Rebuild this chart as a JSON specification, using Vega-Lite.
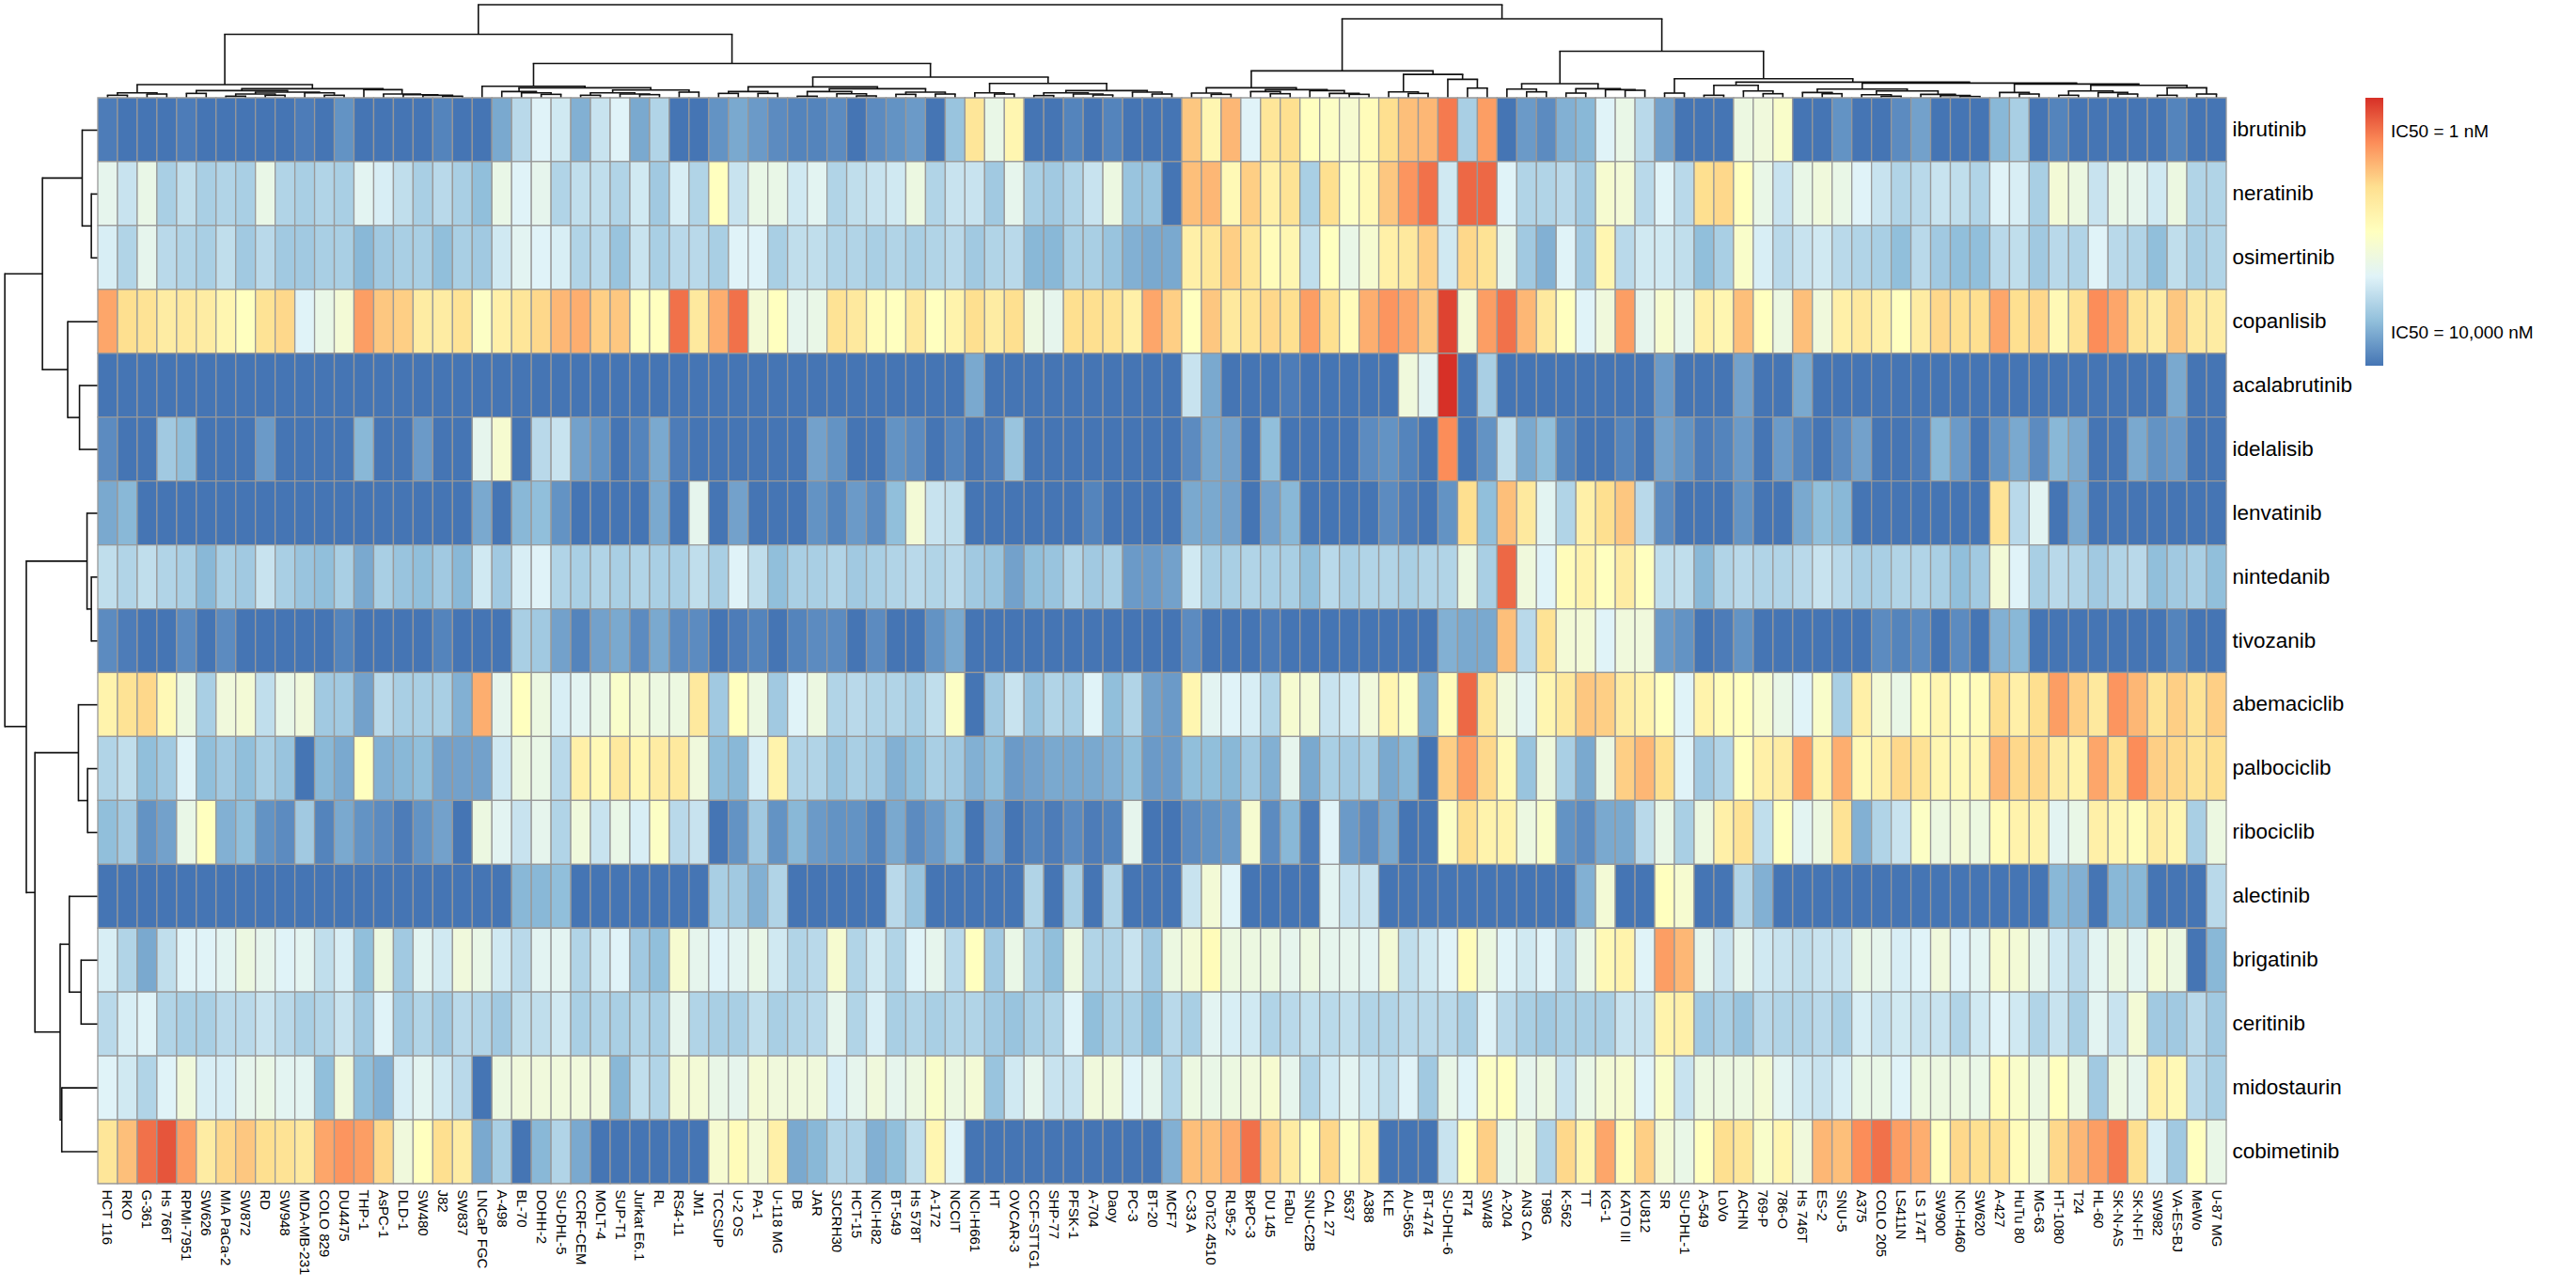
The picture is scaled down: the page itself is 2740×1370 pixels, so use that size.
{"$schema":"https://vega.github.io/schema/vega-lite/v6.json","background":"white","padding":0,"spacing":0,"bounds":"flush","config":{"view":{"stroke":null},"font":"Liberation Sans"},
"datasets":{
"lines":[{"c":0,"line":"HCT 116"},{"c":1,"line":"RKO"},{"c":2,"line":"G-361"},{"c":3,"line":"Hs 766T"},{"c":4,"line":"RPMI-7951"},{"c":5,"line":"SW626"},{"c":6,"line":"MIA PaCa-2"},{"c":7,"line":"SW872"},{"c":8,"line":"RD"},{"c":9,"line":"SW948"},{"c":10,"line":"MDA-MB-231"},{"c":11,"line":"COLO 829"},{"c":12,"line":"DU4475"},{"c":13,"line":"THP-1"},{"c":14,"line":"AsPC-1"},{"c":15,"line":"DLD-1"},{"c":16,"line":"SW480"},{"c":17,"line":"J82"},{"c":18,"line":"SW837"},{"c":19,"line":"LNCaP FGC"},{"c":20,"line":"A-498"},{"c":21,"line":"BL-70"},{"c":22,"line":"DOHH-2"},{"c":23,"line":"SU-DHL-5"},{"c":24,"line":"CCRF-CEM"},{"c":25,"line":"MOLT-4"},{"c":26,"line":"SUP-T1"},{"c":27,"line":"Jurkat E6.1"},{"c":28,"line":"RL"},{"c":29,"line":"RS4-11"},{"c":30,"line":"JM1"},{"c":31,"line":"TCCSUP"},{"c":32,"line":"U-2 OS"},{"c":33,"line":"PA-1"},{"c":34,"line":"U-118 MG"},{"c":35,"line":"DB"},{"c":36,"line":"JAR"},{"c":37,"line":"SJCRH30"},{"c":38,"line":"HCT-15"},{"c":39,"line":"NCI-H82"},{"c":40,"line":"BT-549"},{"c":41,"line":"Hs 578T"},{"c":42,"line":"A-172"},{"c":43,"line":"NCCIT"},{"c":44,"line":"NCI-H661"},{"c":45,"line":"HT"},{"c":46,"line":"OVCAR-3"},{"c":47,"line":"CCF-STTG1"},{"c":48,"line":"SHP-77"},{"c":49,"line":"PFSK-1"},{"c":50,"line":"A-704"},{"c":51,"line":"Daoy"},{"c":52,"line":"PC-3"},{"c":53,"line":"BT-20"},{"c":54,"line":"MCF7"},{"c":55,"line":"C-33 A"},{"c":56,"line":"DoTc2 4510"},{"c":57,"line":"RL95-2"},{"c":58,"line":"BxPC-3"},{"c":59,"line":"DU 145"},{"c":60,"line":"FaDu"},{"c":61,"line":"SNU-C2B"},{"c":62,"line":"CAL 27"},{"c":63,"line":"5637"},{"c":64,"line":"A388"},{"c":65,"line":"KLE"},{"c":66,"line":"AU-565"},{"c":67,"line":"BT-474"},{"c":68,"line":"SU-DHL-6"},{"c":69,"line":"RT4"},{"c":70,"line":"SW48"},{"c":71,"line":"A-204"},{"c":72,"line":"AN3 CA"},{"c":73,"line":"T98G"},{"c":74,"line":"K-562"},{"c":75,"line":"TT"},{"c":76,"line":"KG-1"},{"c":77,"line":"KATO III"},{"c":78,"line":"KU812"},{"c":79,"line":"SR"},{"c":80,"line":"SU-DHL-1"},{"c":81,"line":"A-549"},{"c":82,"line":"LoVo"},{"c":83,"line":"ACHN"},{"c":84,"line":"769-P"},{"c":85,"line":"786-O"},{"c":86,"line":"Hs 746T"},{"c":87,"line":"ES-2"},{"c":88,"line":"SNU-5"},{"c":89,"line":"A375"},{"c":90,"line":"COLO 205"},{"c":91,"line":"LS411N"},{"c":92,"line":"LS 174T"},{"c":93,"line":"SW900"},{"c":94,"line":"NCI-H460"},{"c":95,"line":"SW620"},{"c":96,"line":"A-427"},{"c":97,"line":"HuTu 80"},{"c":98,"line":"MG-63"},{"c":99,"line":"HT-1080"},{"c":100,"line":"T24"},{"c":101,"line":"HL-60"},{"c":102,"line":"SK-N-AS"},{"c":103,"line":"SK-N-FI"},{"c":104,"line":"SW982"},{"c":105,"line":"VA-ES-BJ"},{"c":106,"line":"MeWo"},{"c":107,"line":"U-87 MG"}],
"drugs":[{"d":0,"drug":"ibrutinib"},{"d":1,"drug":"neratinib"},{"d":2,"drug":"osimertinib"},{"d":3,"drug":"copanlisib"},{"d":4,"drug":"acalabrutinib"},{"d":5,"drug":"idelalisib"},{"d":6,"drug":"lenvatinib"},{"d":7,"drug":"nintedanib"},{"d":8,"drug":"tivozanib"},{"d":9,"drug":"abemaciclib"},{"d":10,"drug":"palbociclib"},{"d":11,"drug":"ribociclib"},{"d":12,"drug":"alectinib"},{"d":13,"drug":"brigatinib"},{"d":14,"drug":"ceritinib"},{"d":15,"drug":"midostaurin"},{"d":16,"drug":"cobimetinib"}],
"topTree":[{"a":0.5,"b":1.5,"h":8,"ha":0,"hb":0},{"a":2.5,"b":3.5,"h":12,"ha":0,"hb":0},{"a":1,"b":3,"h":16,"ha":8,"hb":12},{"a":4.5,"b":5.5,"h":14,"ha":0,"hb":0},{"a":6.5,"b":7.5,"h":5,"ha":0,"hb":0},{"a":8.5,"b":9.5,"h":8,"ha":0,"hb":0},{"a":7,"b":9,"h":12,"ha":5,"hb":8},{"a":11.5,"b":12.5,"h":8,"ha":0,"hb":0},{"a":10.5,"b":12,"h":16,"ha":0,"hb":8},{"a":8,"b":11.25,"h":18,"ha":12,"hb":16},{"a":5,"b":9.625,"h":23,"ha":14,"hb":18},{"a":17.5,"b":18.5,"h":5,"ha":0,"hb":0},{"a":16.5,"b":18,"h":8,"ha":0,"hb":5},{"a":15.5,"b":17.25,"h":10,"ha":0,"hb":8},{"a":14.5,"b":16.375,"h":12,"ha":0,"hb":10},{"a":13.5,"b":15.44,"h":26,"ha":0,"hb":12},{"a":7.31,"b":14.47,"h":29,"ha":23,"hb":26},{"a":2,"b":10.89,"h":42,"ha":16,"hb":29},{"a":22.5,"b":23.5,"h":11,"ha":0,"hb":0},{"a":21.5,"b":23,"h":16,"ha":0,"hb":11},{"a":20.5,"b":22.25,"h":20,"ha":0,"hb":16},{"a":24.5,"b":25.5,"h":8,"ha":0,"hb":0},{"a":27.5,"b":28.5,"h":10,"ha":0,"hb":0},{"a":26.5,"b":28,"h":12,"ha":0,"hb":10},{"a":25,"b":27.25,"h":16,"ha":8,"hb":12},{"a":29.5,"b":30.5,"h":18,"ha":0,"hb":0},{"a":26.125,"b":30,"h":25,"ha":16,"hb":18},{"a":21.375,"b":28.06,"h":32,"ha":20,"hb":25},{"a":19.5,"b":24.72,"h":37,"ha":0,"hb":32},{"a":31.5,"b":32.5,"h":14,"ha":0,"hb":0},{"a":33.5,"b":34.5,"h":14,"ha":0,"hb":0},{"a":32,"b":34,"h":20,"ha":14,"hb":14},{"a":35.5,"b":36.5,"h":5,"ha":0,"hb":0},{"a":38.5,"b":39.5,"h":6,"ha":0,"hb":0},{"a":37.5,"b":39,"h":13,"ha":0,"hb":6},{"a":36,"b":38.25,"h":20,"ha":5,"hb":13},{"a":40.5,"b":41.5,"h":11,"ha":0,"hb":0},{"a":42.5,"b":43.5,"h":12,"ha":0,"hb":0},{"a":41,"b":43,"h":18,"ha":11,"hb":12},{"a":37.125,"b":42,"h":29,"ha":20,"hb":18},{"a":33,"b":39.56,"h":35,"ha":20,"hb":29},{"a":45.5,"b":46.5,"h":12,"ha":0,"hb":0},{"a":44.5,"b":46,"h":16,"ha":0,"hb":12},{"a":47.5,"b":48.5,"h":7,"ha":0,"hb":0},{"a":50.5,"b":51.5,"h":9,"ha":0,"hb":0},{"a":49.5,"b":51,"h":12,"ha":0,"hb":9},{"a":48,"b":50.25,"h":16,"ha":7,"hb":12},{"a":53.5,"b":54.5,"h":12,"ha":0,"hb":0},{"a":52.5,"b":54,"h":18,"ha":0,"hb":12},{"a":49.125,"b":53.25,"h":23,"ha":16,"hb":18},{"a":45.25,"b":51.19,"h":46,"ha":16,"hb":23},{"a":36.28,"b":48.22,"h":66,"ha":35,"hb":46},{"a":22.11,"b":42.25,"h":110,"ha":37,"hb":66},{"a":6.445,"b":32.18,"h":203,"ha":42,"hb":110},{"a":56.5,"b":57.5,"h":11,"ha":0,"hb":0},{"a":55.5,"b":57,"h":15,"ha":0,"hb":11},{"a":59.5,"b":60.5,"h":13,"ha":0,"hb":0},{"a":58.5,"b":60,"h":20,"ha":0,"hb":13},{"a":63.5,"b":64.5,"h":11,"ha":0,"hb":0},{"a":62.5,"b":64,"h":14,"ha":0,"hb":11},{"a":61.5,"b":63.25,"h":23,"ha":0,"hb":14},{"a":59.25,"b":62.375,"h":26,"ha":20,"hb":23},{"a":56.25,"b":60.81,"h":32,"ha":15,"hb":26},{"a":66.5,"b":67.5,"h":14,"ha":0,"hb":0},{"a":65.5,"b":67,"h":19,"ha":0,"hb":14},{"a":69.5,"b":70.5,"h":31,"ha":0,"hb":0},{"a":68.5,"b":70,"h":59,"ha":0,"hb":31},{"a":66.25,"b":69.25,"h":75,"ha":19,"hb":59},{"a":58.53,"b":67.75,"h":86,"ha":32,"hb":75},{"a":72.5,"b":73.5,"h":19,"ha":0,"hb":0},{"a":71.5,"b":73,"h":28,"ha":0,"hb":19},{"a":74.5,"b":75.5,"h":15,"ha":0,"hb":0},{"a":77.5,"b":78.5,"h":24,"ha":0,"hb":0},{"a":76.5,"b":78,"h":26,"ha":0,"hb":24},{"a":75,"b":77.25,"h":29,"ha":15,"hb":26},{"a":72.25,"b":76.125,"h":45,"ha":28,"hb":29},{"a":79.5,"b":80.5,"h":15,"ha":0,"hb":0},{"a":81.5,"b":82.5,"h":8,"ha":0,"hb":0},{"a":84.5,"b":85.5,"h":13,"ha":0,"hb":0},{"a":83.5,"b":85,"h":22,"ha":0,"hb":13},{"a":82,"b":84.25,"h":40,"ha":8,"hb":22},{"a":87.5,"b":88.5,"h":13,"ha":0,"hb":0},{"a":86.5,"b":88,"h":17,"ha":0,"hb":13},{"a":90.5,"b":91.5,"h":5,"ha":0,"hb":0},{"a":89.5,"b":91,"h":10,"ha":0,"hb":5},{"a":94.5,"b":95.5,"h":4,"ha":0,"hb":0},{"a":93.5,"b":95,"h":7,"ha":0,"hb":4},{"a":92.5,"b":94.25,"h":11,"ha":0,"hb":7},{"a":90.25,"b":93.375,"h":22,"ha":10,"hb":11},{"a":87.25,"b":91.81,"h":28,"ha":17,"hb":22},{"a":97.5,"b":98.5,"h":12,"ha":0,"hb":0},{"a":96.5,"b":98,"h":17,"ha":0,"hb":12},{"a":99.5,"b":100.5,"h":8,"ha":0,"hb":0},{"a":102.5,"b":103.5,"h":12,"ha":0,"hb":0},{"a":101.5,"b":103,"h":17,"ha":0,"hb":12},{"a":100,"b":102.25,"h":22,"ha":8,"hb":17},{"a":104.5,"b":105.5,"h":8,"ha":0,"hb":0},{"a":106.5,"b":107.5,"h":12,"ha":0,"hb":0},{"a":105,"b":107,"h":32,"ha":8,"hb":12},{"a":101.125,"b":106,"h":40,"ha":22,"hb":32},{"a":97.25,"b":103.56,"h":44,"ha":17,"hb":40},{"a":89.53,"b":100.4,"h":47,"ha":28,"hb":44},{"a":83.125,"b":94.97,"h":50,"ha":40,"hb":47},{"a":80,"b":89.05,"h":61,"ha":15,"hb":50},{"a":74.19,"b":84.52,"h":149,"ha":45,"hb":61},{"a":63.14,"b":79.36,"h":253,"ha":86,"hb":149},{"a":19.31,"b":71.25,"h":298,"ha":203,"hb":253}],
"leftTree":[{"a":1.5,"b":2.5,"h":12,"ha":0,"hb":0},{"a":0.5,"b":2,"h":29,"ha":0,"hb":12},{"a":4.5,"b":5.5,"h":34,"ha":0,"hb":0},{"a":3.5,"b":5,"h":56,"ha":0,"hb":34},{"a":1.25,"b":4.25,"h":103,"ha":29,"hb":56},{"a":7.5,"b":8.5,"h":12,"ha":0,"hb":0},{"a":6.5,"b":8,"h":20,"ha":0,"hb":12},{"a":10.5,"b":11.5,"h":19,"ha":0,"hb":0},{"a":9.5,"b":11,"h":36,"ha":0,"hb":19},{"a":13.5,"b":14.5,"h":31,"ha":0,"hb":0},{"a":12.5,"b":14,"h":53,"ha":0,"hb":31},{"a":15.5,"b":16.5,"h":67,"ha":0,"hb":0},{"a":13.25,"b":16,"h":70,"ha":53,"hb":67},{"a":10.25,"b":14.625,"h":117,"ha":36,"hb":70},{"a":7.25,"b":12.44,"h":133,"ha":20,"hb":117},{"a":2.75,"b":9.84,"h":173,"ha":103,"hb":133}],
"cells":[
{"d":0,"c":0,"v":1},{"d":0,"c":1,"v":0},{"d":0,"c":2,"v":0},{"d":0,"c":3,"v":0},{"d":0,"c":4,"v":1},{"d":0,"c":5,"v":0},{"d":0,"c":6,"v":0},{"d":0,"c":7,"v":0},{"d":0,"c":8,"v":0},{"d":0,"c":9,"v":0},{"d":0,"c":10,"v":1},{"d":0,"c":11,"v":0},{"d":0,"c":12,"v":4},{"d":0,"c":13,"v":0},{"d":0,"c":14,"v":0},{"d":0,"c":15,"v":0},{"d":0,"c":16,"v":0},{"d":0,"c":17,"v":2},{"d":0,"c":18,"v":0},{"d":0,"c":19,"v":0},{"d":0,"c":20,"v":7},{"d":0,"c":21,"v":15},{"d":0,"c":22,"v":20},{"d":0,"c":23,"v":18},{"d":0,"c":24,"v":8},{"d":0,"c":25,"v":17},{"d":0,"c":26,"v":20},{"d":0,"c":27,"v":7},{"d":0,"c":28,"v":14},{"d":0,"c":29,"v":0},{"d":0,"c":30,"v":0},{"d":0,"c":31,"v":4},{"d":0,"c":32,"v":7},{"d":0,"c":33,"v":5},{"d":0,"c":34,"v":3},{"d":0,"c":35,"v":2},{"d":0,"c":36,"v":2},{"d":0,"c":37,"v":3},{"d":0,"c":38,"v":0},{"d":0,"c":39,"v":3},{"d":0,"c":40,"v":4},{"d":0,"c":41,"v":5},{"d":0,"c":42,"v":0},{"d":0,"c":43,"v":11},{"d":0,"c":44,"v":38},{"d":0,"c":45,"v":23},{"d":0,"c":46,"v":33},{"d":0,"c":47,"v":0},{"d":0,"c":48,"v":0},{"d":0,"c":49,"v":2},{"d":0,"c":50,"v":0},{"d":0,"c":51,"v":2},{"d":0,"c":52,"v":0},{"d":0,"c":53,"v":0},{"d":0,"c":54,"v":0},{"d":0,"c":55,"v":43},{"d":0,"c":56,"v":33},{"d":0,"c":57,"v":45},{"d":0,"c":58,"v":20},{"d":0,"c":59,"v":38},{"d":0,"c":60,"v":40},{"d":0,"c":61,"v":30},{"d":0,"c":62,"v":29},{"d":0,"c":63,"v":27},{"d":0,"c":64,"v":31},{"d":0,"c":65,"v":40},{"d":0,"c":66,"v":44},{"d":0,"c":67,"v":45},{"d":0,"c":68,"v":52},{"d":0,"c":69,"v":13},{"d":0,"c":70,"v":48},{"d":0,"c":71,"v":0},{"d":0,"c":72,"v":5},{"d":0,"c":73,"v":3},{"d":0,"c":74,"v":8},{"d":0,"c":75,"v":9},{"d":0,"c":76,"v":20},{"d":0,"c":77,"v":23},{"d":0,"c":78,"v":15},{"d":0,"c":79,"v":6},{"d":0,"c":80,"v":0},{"d":0,"c":81,"v":0},{"d":0,"c":82,"v":0},{"d":0,"c":83,"v":24},{"d":0,"c":84,"v":25},{"d":0,"c":85,"v":28},{"d":0,"c":86,"v":0},{"d":0,"c":87,"v":0},{"d":0,"c":88,"v":4},{"d":0,"c":89,"v":0},{"d":0,"c":90,"v":0},{"d":0,"c":91,"v":3},{"d":0,"c":92,"v":6},{"d":0,"c":93,"v":0},{"d":0,"c":94,"v":0},{"d":0,"c":95,"v":0},{"d":0,"c":96,"v":9},{"d":0,"c":97,"v":13},{"d":0,"c":98,"v":0},{"d":0,"c":99,"v":2},{"d":0,"c":100,"v":0},{"d":0,"c":101,"v":0},{"d":0,"c":102,"v":0},{"d":0,"c":103,"v":0},{"d":0,"c":104,"v":0},{"d":0,"c":105,"v":2},{"d":0,"c":106,"v":0},{"d":0,"c":107,"v":0},
{"d":1,"c":0,"v":22},{"d":1,"c":1,"v":17},{"d":1,"c":2,"v":23},{"d":1,"c":3,"v":13},{"d":1,"c":4,"v":16},{"d":1,"c":5,"v":13},{"d":1,"c":6,"v":14},{"d":1,"c":7,"v":13},{"d":1,"c":8,"v":23},{"d":1,"c":9,"v":14},{"d":1,"c":10,"v":13},{"d":1,"c":11,"v":14},{"d":1,"c":12,"v":13},{"d":1,"c":13,"v":21},{"d":1,"c":14,"v":19},{"d":1,"c":15,"v":16},{"d":1,"c":16,"v":13},{"d":1,"c":17,"v":15},{"d":1,"c":18,"v":13},{"d":1,"c":19,"v":10},{"d":1,"c":20,"v":23},{"d":1,"c":21,"v":20},{"d":1,"c":22,"v":22},{"d":1,"c":23,"v":14},{"d":1,"c":24,"v":16},{"d":1,"c":25,"v":16},{"d":1,"c":26,"v":14},{"d":1,"c":27,"v":18},{"d":1,"c":28,"v":12},{"d":1,"c":29,"v":19},{"d":1,"c":30,"v":14},{"d":1,"c":31,"v":30},{"d":1,"c":32,"v":17},{"d":1,"c":33,"v":23},{"d":1,"c":34,"v":23},{"d":1,"c":35,"v":18},{"d":1,"c":36,"v":21},{"d":1,"c":37,"v":14},{"d":1,"c":38,"v":16},{"d":1,"c":39,"v":17},{"d":1,"c":40,"v":18},{"d":1,"c":41,"v":24},{"d":1,"c":42,"v":14},{"d":1,"c":43,"v":17},{"d":1,"c":44,"v":17},{"d":1,"c":45,"v":12},{"d":1,"c":46,"v":22},{"d":1,"c":47,"v":13},{"d":1,"c":48,"v":12},{"d":1,"c":49,"v":14},{"d":1,"c":50,"v":17},{"d":1,"c":51,"v":24},{"d":1,"c":52,"v":11},{"d":1,"c":53,"v":11},{"d":1,"c":54,"v":0},{"d":1,"c":55,"v":44},{"d":1,"c":56,"v":45},{"d":1,"c":57,"v":32},{"d":1,"c":58,"v":42},{"d":1,"c":59,"v":35},{"d":1,"c":60,"v":39},{"d":1,"c":61,"v":13},{"d":1,"c":62,"v":40},{"d":1,"c":63,"v":29},{"d":1,"c":64,"v":32},{"d":1,"c":65,"v":43},{"d":1,"c":66,"v":49},{"d":1,"c":67,"v":53},{"d":1,"c":68,"v":18},{"d":1,"c":69,"v":54},{"d":1,"c":70,"v":54},{"d":1,"c":71,"v":20},{"d":1,"c":72,"v":14},{"d":1,"c":73,"v":14},{"d":1,"c":74,"v":15},{"d":1,"c":75,"v":12},{"d":1,"c":76,"v":27},{"d":1,"c":77,"v":26},{"d":1,"c":78,"v":15},{"d":1,"c":79,"v":20},{"d":1,"c":80,"v":15},{"d":1,"c":81,"v":40},{"d":1,"c":82,"v":41},{"d":1,"c":83,"v":30},{"d":1,"c":84,"v":23},{"d":1,"c":85,"v":17},{"d":1,"c":86,"v":23},{"d":1,"c":87,"v":25},{"d":1,"c":88,"v":23},{"d":1,"c":89,"v":20},{"d":1,"c":90,"v":17},{"d":1,"c":91,"v":14},{"d":1,"c":92,"v":15},{"d":1,"c":93,"v":17},{"d":1,"c":94,"v":16},{"d":1,"c":95,"v":14},{"d":1,"c":96,"v":20},{"d":1,"c":97,"v":19},{"d":1,"c":98,"v":13},{"d":1,"c":99,"v":26},{"d":1,"c":100,"v":24},{"d":1,"c":101,"v":17},{"d":1,"c":102,"v":23},{"d":1,"c":103,"v":22},{"d":1,"c":104,"v":18},{"d":1,"c":105,"v":24},{"d":1,"c":106,"v":14},{"d":1,"c":107,"v":14},
{"d":2,"c":0,"v":19},{"d":2,"c":1,"v":14},{"d":2,"c":2,"v":22},{"d":2,"c":3,"v":15},{"d":2,"c":4,"v":14},{"d":2,"c":5,"v":13},{"d":2,"c":6,"v":16},{"d":2,"c":7,"v":12},{"d":2,"c":8,"v":15},{"d":2,"c":9,"v":12},{"d":2,"c":10,"v":12},{"d":2,"c":11,"v":13},{"d":2,"c":12,"v":13},{"d":2,"c":13,"v":9},{"d":2,"c":14,"v":12},{"d":2,"c":15,"v":13},{"d":2,"c":16,"v":13},{"d":2,"c":17,"v":10},{"d":2,"c":18,"v":13},{"d":2,"c":19,"v":12},{"d":2,"c":20,"v":18},{"d":2,"c":21,"v":21},{"d":2,"c":22,"v":20},{"d":2,"c":23,"v":19},{"d":2,"c":24,"v":14},{"d":2,"c":25,"v":15},{"d":2,"c":26,"v":11},{"d":2,"c":27,"v":17},{"d":2,"c":28,"v":13},{"d":2,"c":29,"v":15},{"d":2,"c":30,"v":15},{"d":2,"c":31,"v":13},{"d":2,"c":32,"v":20},{"d":2,"c":33,"v":20},{"d":2,"c":34,"v":13},{"d":2,"c":35,"v":16},{"d":2,"c":36,"v":16},{"d":2,"c":37,"v":14},{"d":2,"c":38,"v":14},{"d":2,"c":39,"v":13},{"d":2,"c":40,"v":14},{"d":2,"c":41,"v":13},{"d":2,"c":42,"v":14},{"d":2,"c":43,"v":15},{"d":2,"c":44,"v":12},{"d":2,"c":45,"v":14},{"d":2,"c":46,"v":15},{"d":2,"c":47,"v":9},{"d":2,"c":48,"v":9},{"d":2,"c":49,"v":13},{"d":2,"c":50,"v":13},{"d":2,"c":51,"v":11},{"d":2,"c":52,"v":8},{"d":2,"c":53,"v":7},{"d":2,"c":54,"v":7},{"d":2,"c":55,"v":35},{"d":2,"c":56,"v":38},{"d":2,"c":57,"v":42},{"d":2,"c":58,"v":38},{"d":2,"c":59,"v":31},{"d":2,"c":60,"v":33},{"d":2,"c":61,"v":16},{"d":2,"c":62,"v":30},{"d":2,"c":63,"v":23},{"d":2,"c":64,"v":27},{"d":2,"c":65,"v":35},{"d":2,"c":66,"v":37},{"d":2,"c":67,"v":42},{"d":2,"c":68,"v":18},{"d":2,"c":69,"v":41},{"d":2,"c":70,"v":39},{"d":2,"c":71,"v":22},{"d":2,"c":72,"v":12},{"d":2,"c":73,"v":8},{"d":2,"c":74,"v":20},{"d":2,"c":75,"v":12},{"d":2,"c":76,"v":33},{"d":2,"c":77,"v":15},{"d":2,"c":78,"v":18},{"d":2,"c":79,"v":18},{"d":2,"c":80,"v":16},{"d":2,"c":81,"v":10},{"d":2,"c":82,"v":13},{"d":2,"c":83,"v":28},{"d":2,"c":84,"v":19},{"d":2,"c":85,"v":15},{"d":2,"c":86,"v":17},{"d":2,"c":87,"v":18},{"d":2,"c":88,"v":15},{"d":2,"c":89,"v":14},{"d":2,"c":90,"v":13},{"d":2,"c":91,"v":10},{"d":2,"c":92,"v":15},{"d":2,"c":93,"v":12},{"d":2,"c":94,"v":10},{"d":2,"c":95,"v":10},{"d":2,"c":96,"v":15},{"d":2,"c":97,"v":16},{"d":2,"c":98,"v":12},{"d":2,"c":99,"v":15},{"d":2,"c":100,"v":14},{"d":2,"c":101,"v":20},{"d":2,"c":102,"v":15},{"d":2,"c":103,"v":14},{"d":2,"c":104,"v":10},{"d":2,"c":105,"v":16},{"d":2,"c":106,"v":13},{"d":2,"c":107,"v":14},
{"d":3,"c":0,"v":47},{"d":3,"c":1,"v":40},{"d":3,"c":2,"v":39},{"d":3,"c":3,"v":36},{"d":3,"c":4,"v":37},{"d":3,"c":5,"v":36},{"d":3,"c":6,"v":33},{"d":3,"c":7,"v":30},{"d":3,"c":8,"v":39},{"d":3,"c":9,"v":41},{"d":3,"c":10,"v":20},{"d":3,"c":11,"v":23},{"d":3,"c":12,"v":26},{"d":3,"c":13,"v":48},{"d":3,"c":14,"v":43},{"d":3,"c":15,"v":42},{"d":3,"c":16,"v":36},{"d":3,"c":17,"v":36},{"d":3,"c":18,"v":39},{"d":3,"c":19,"v":29},{"d":3,"c":20,"v":35},{"d":3,"c":21,"v":38},{"d":3,"c":22,"v":41},{"d":3,"c":23,"v":45},{"d":3,"c":24,"v":46},{"d":3,"c":25,"v":42},{"d":3,"c":26,"v":43},{"d":3,"c":27,"v":30},{"d":3,"c":28,"v":30},{"d":3,"c":29,"v":53},{"d":3,"c":30,"v":37},{"d":3,"c":31,"v":46},{"d":3,"c":32,"v":53},{"d":3,"c":33,"v":26},{"d":3,"c":34,"v":30},{"d":3,"c":35,"v":22},{"d":3,"c":36,"v":23},{"d":3,"c":37,"v":39},{"d":3,"c":38,"v":37},{"d":3,"c":39,"v":31},{"d":3,"c":40,"v":30},{"d":3,"c":41,"v":37},{"d":3,"c":42,"v":30},{"d":3,"c":43,"v":34},{"d":3,"c":44,"v":40},{"d":3,"c":45,"v":36},{"d":3,"c":46,"v":40},{"d":3,"c":47,"v":24},{"d":3,"c":48,"v":22},{"d":3,"c":49,"v":40},{"d":3,"c":50,"v":40},{"d":3,"c":51,"v":39},{"d":3,"c":52,"v":35},{"d":3,"c":53,"v":47},{"d":3,"c":54,"v":42},{"d":3,"c":55,"v":30},{"d":3,"c":56,"v":43},{"d":3,"c":57,"v":37},{"d":3,"c":58,"v":39},{"d":3,"c":59,"v":41},{"d":3,"c":60,"v":40},{"d":3,"c":61,"v":48},{"d":3,"c":62,"v":40},{"d":3,"c":63,"v":31},{"d":3,"c":64,"v":46},{"d":3,"c":65,"v":49},{"d":3,"c":66,"v":47},{"d":3,"c":67,"v":43},{"d":3,"c":68,"v":58},{"d":3,"c":69,"v":26},{"d":3,"c":70,"v":48},{"d":3,"c":71,"v":53},{"d":3,"c":72,"v":45},{"d":3,"c":73,"v":37},{"d":3,"c":74,"v":30},{"d":3,"c":75,"v":20},{"d":3,"c":76,"v":25},{"d":3,"c":77,"v":48},{"d":3,"c":78,"v":22},{"d":3,"c":79,"v":27},{"d":3,"c":80,"v":22},{"d":3,"c":81,"v":35},{"d":3,"c":82,"v":33},{"d":3,"c":83,"v":44},{"d":3,"c":84,"v":30},{"d":3,"c":85,"v":24},{"d":3,"c":86,"v":44},{"d":3,"c":87,"v":25},{"d":3,"c":88,"v":35},{"d":3,"c":89,"v":37},{"d":3,"c":90,"v":35},{"d":3,"c":91,"v":30},{"d":3,"c":92,"v":36},{"d":3,"c":93,"v":41},{"d":3,"c":94,"v":40},{"d":3,"c":95,"v":40},{"d":3,"c":96,"v":47},{"d":3,"c":97,"v":40},{"d":3,"c":98,"v":41},{"d":3,"c":99,"v":32},{"d":3,"c":100,"v":39},{"d":3,"c":101,"v":50},{"d":3,"c":102,"v":47},{"d":3,"c":103,"v":39},{"d":3,"c":104,"v":36},{"d":3,"c":105,"v":43},{"d":3,"c":106,"v":37},{"d":3,"c":107,"v":36},
{"d":4,"c":0,"v":0},{"d":4,"c":1,"v":0},{"d":4,"c":2,"v":0},{"d":4,"c":3,"v":0},{"d":4,"c":4,"v":0},{"d":4,"c":5,"v":0},{"d":4,"c":6,"v":0},{"d":4,"c":7,"v":0},{"d":4,"c":8,"v":0},{"d":4,"c":9,"v":0},{"d":4,"c":10,"v":0},{"d":4,"c":11,"v":0},{"d":4,"c":12,"v":0},{"d":4,"c":13,"v":0},{"d":4,"c":14,"v":0},{"d":4,"c":15,"v":0},{"d":4,"c":16,"v":0},{"d":4,"c":17,"v":0},{"d":4,"c":18,"v":0},{"d":4,"c":19,"v":0},{"d":4,"c":20,"v":0},{"d":4,"c":21,"v":0},{"d":4,"c":22,"v":0},{"d":4,"c":23,"v":0},{"d":4,"c":24,"v":0},{"d":4,"c":25,"v":0},{"d":4,"c":26,"v":0},{"d":4,"c":27,"v":0},{"d":4,"c":28,"v":0},{"d":4,"c":29,"v":0},{"d":4,"c":30,"v":0},{"d":4,"c":31,"v":0},{"d":4,"c":32,"v":0},{"d":4,"c":33,"v":0},{"d":4,"c":34,"v":0},{"d":4,"c":35,"v":0},{"d":4,"c":36,"v":0},{"d":4,"c":37,"v":0},{"d":4,"c":38,"v":0},{"d":4,"c":39,"v":0},{"d":4,"c":40,"v":0},{"d":4,"c":41,"v":0},{"d":4,"c":42,"v":0},{"d":4,"c":43,"v":0},{"d":4,"c":44,"v":7},{"d":4,"c":45,"v":0},{"d":4,"c":46,"v":0},{"d":4,"c":47,"v":0},{"d":4,"c":48,"v":0},{"d":4,"c":49,"v":0},{"d":4,"c":50,"v":0},{"d":4,"c":51,"v":0},{"d":4,"c":52,"v":0},{"d":4,"c":53,"v":0},{"d":4,"c":54,"v":0},{"d":4,"c":55,"v":17},{"d":4,"c":56,"v":7},{"d":4,"c":57,"v":0},{"d":4,"c":58,"v":0},{"d":4,"c":59,"v":0},{"d":4,"c":60,"v":1},{"d":4,"c":61,"v":0},{"d":4,"c":62,"v":0},{"d":4,"c":63,"v":0},{"d":4,"c":64,"v":0},{"d":4,"c":65,"v":0},{"d":4,"c":66,"v":25},{"d":4,"c":67,"v":21},{"d":4,"c":68,"v":60},{"d":4,"c":69,"v":0},{"d":4,"c":70,"v":13},{"d":4,"c":71,"v":0},{"d":4,"c":72,"v":0},{"d":4,"c":73,"v":0},{"d":4,"c":74,"v":0},{"d":4,"c":75,"v":0},{"d":4,"c":76,"v":0},{"d":4,"c":77,"v":0},{"d":4,"c":78,"v":0},{"d":4,"c":79,"v":5},{"d":4,"c":80,"v":0},{"d":4,"c":81,"v":0},{"d":4,"c":82,"v":0},{"d":4,"c":83,"v":6},{"d":4,"c":84,"v":0},{"d":4,"c":85,"v":0},{"d":4,"c":86,"v":7},{"d":4,"c":87,"v":0},{"d":4,"c":88,"v":0},{"d":4,"c":89,"v":0},{"d":4,"c":90,"v":0},{"d":4,"c":91,"v":0},{"d":4,"c":92,"v":0},{"d":4,"c":93,"v":0},{"d":4,"c":94,"v":0},{"d":4,"c":95,"v":0},{"d":4,"c":96,"v":0},{"d":4,"c":97,"v":0},{"d":4,"c":98,"v":0},{"d":4,"c":99,"v":0},{"d":4,"c":100,"v":0},{"d":4,"c":101,"v":0},{"d":4,"c":102,"v":0},{"d":4,"c":103,"v":0},{"d":4,"c":104,"v":0},{"d":4,"c":105,"v":7},{"d":4,"c":106,"v":0},{"d":4,"c":107,"v":0},
{"d":5,"c":0,"v":3},{"d":5,"c":1,"v":0},{"d":5,"c":2,"v":0},{"d":5,"c":3,"v":12},{"d":5,"c":4,"v":10},{"d":5,"c":5,"v":0},{"d":5,"c":6,"v":0},{"d":5,"c":7,"v":0},{"d":5,"c":8,"v":5},{"d":5,"c":9,"v":0},{"d":5,"c":10,"v":0},{"d":5,"c":11,"v":0},{"d":5,"c":12,"v":0},{"d":5,"c":13,"v":9},{"d":5,"c":14,"v":0},{"d":5,"c":15,"v":0},{"d":5,"c":16,"v":5},{"d":5,"c":17,"v":0},{"d":5,"c":18,"v":0},{"d":5,"c":19,"v":22},{"d":5,"c":20,"v":27},{"d":5,"c":21,"v":0},{"d":5,"c":22,"v":15},{"d":5,"c":23,"v":17},{"d":5,"c":24,"v":6},{"d":5,"c":25,"v":4},{"d":5,"c":26,"v":0},{"d":5,"c":27,"v":2},{"d":5,"c":28,"v":7},{"d":5,"c":29,"v":1},{"d":5,"c":30,"v":0},{"d":5,"c":31,"v":0},{"d":5,"c":32,"v":0},{"d":5,"c":33,"v":0},{"d":5,"c":34,"v":0},{"d":5,"c":35,"v":0},{"d":5,"c":36,"v":6},{"d":5,"c":37,"v":4},{"d":5,"c":38,"v":0},{"d":5,"c":39,"v":0},{"d":5,"c":40,"v":4},{"d":5,"c":41,"v":3},{"d":5,"c":42,"v":0},{"d":5,"c":43,"v":2},{"d":5,"c":44,"v":0},{"d":5,"c":45,"v":1},{"d":5,"c":46,"v":11},{"d":5,"c":47,"v":0},{"d":5,"c":48,"v":0},{"d":5,"c":49,"v":0},{"d":5,"c":50,"v":0},{"d":5,"c":51,"v":0},{"d":5,"c":52,"v":0},{"d":5,"c":53,"v":0},{"d":5,"c":54,"v":0},{"d":5,"c":55,"v":3},{"d":5,"c":56,"v":7},{"d":5,"c":57,"v":6},{"d":5,"c":58,"v":0},{"d":5,"c":59,"v":10},{"d":5,"c":60,"v":0},{"d":5,"c":61,"v":0},{"d":5,"c":62,"v":0},{"d":5,"c":63,"v":0},{"d":5,"c":64,"v":3},{"d":5,"c":65,"v":4},{"d":5,"c":66,"v":2},{"d":5,"c":67,"v":0},{"d":5,"c":68,"v":50},{"d":5,"c":69,"v":0},{"d":5,"c":70,"v":4},{"d":5,"c":71,"v":16},{"d":5,"c":72,"v":7},{"d":5,"c":73,"v":10},{"d":5,"c":74,"v":2},{"d":5,"c":75,"v":0},{"d":5,"c":76,"v":0},{"d":5,"c":77,"v":2},{"d":5,"c":78,"v":0},{"d":5,"c":79,"v":6},{"d":5,"c":80,"v":4},{"d":5,"c":81,"v":1},{"d":5,"c":82,"v":2},{"d":5,"c":83,"v":5},{"d":5,"c":84,"v":0},{"d":5,"c":85,"v":5},{"d":5,"c":86,"v":2},{"d":5,"c":87,"v":0},{"d":5,"c":88,"v":3},{"d":5,"c":89,"v":6},{"d":5,"c":90,"v":0},{"d":5,"c":91,"v":0},{"d":5,"c":92,"v":1},{"d":5,"c":93,"v":9},{"d":5,"c":94,"v":5},{"d":5,"c":95,"v":0},{"d":5,"c":96,"v":4},{"d":5,"c":97,"v":7},{"d":5,"c":98,"v":3},{"d":5,"c":99,"v":9},{"d":5,"c":100,"v":7},{"d":5,"c":101,"v":0},{"d":5,"c":102,"v":0},{"d":5,"c":103,"v":7},{"d":5,"c":104,"v":4},{"d":5,"c":105,"v":5},{"d":5,"c":106,"v":0},{"d":5,"c":107,"v":0},
{"d":6,"c":0,"v":7},{"d":6,"c":1,"v":9},{"d":6,"c":2,"v":0},{"d":6,"c":3,"v":0},{"d":6,"c":4,"v":0},{"d":6,"c":5,"v":0},{"d":6,"c":6,"v":0},{"d":6,"c":7,"v":0},{"d":6,"c":8,"v":0},{"d":6,"c":9,"v":0},{"d":6,"c":10,"v":0},{"d":6,"c":11,"v":0},{"d":6,"c":12,"v":0},{"d":6,"c":13,"v":0},{"d":6,"c":14,"v":0},{"d":6,"c":15,"v":0},{"d":6,"c":16,"v":0},{"d":6,"c":17,"v":0},{"d":6,"c":18,"v":0},{"d":6,"c":19,"v":7},{"d":6,"c":20,"v":0},{"d":6,"c":21,"v":9},{"d":6,"c":22,"v":10},{"d":6,"c":23,"v":4},{"d":6,"c":24,"v":0},{"d":6,"c":25,"v":0},{"d":6,"c":26,"v":0},{"d":6,"c":27,"v":0},{"d":6,"c":28,"v":7},{"d":6,"c":29,"v":0},{"d":6,"c":30,"v":22},{"d":6,"c":31,"v":0},{"d":6,"c":32,"v":6},{"d":6,"c":33,"v":0},{"d":6,"c":34,"v":0},{"d":6,"c":35,"v":0},{"d":6,"c":36,"v":4},{"d":6,"c":37,"v":2},{"d":6,"c":38,"v":5},{"d":6,"c":39,"v":3},{"d":6,"c":40,"v":10},{"d":6,"c":41,"v":26},{"d":6,"c":42,"v":17},{"d":6,"c":43,"v":16},{"d":6,"c":44,"v":0},{"d":6,"c":45,"v":0},{"d":6,"c":46,"v":0},{"d":6,"c":47,"v":0},{"d":6,"c":48,"v":0},{"d":6,"c":49,"v":0},{"d":6,"c":50,"v":2},{"d":6,"c":51,"v":0},{"d":6,"c":52,"v":0},{"d":6,"c":53,"v":0},{"d":6,"c":54,"v":0},{"d":6,"c":55,"v":7},{"d":6,"c":56,"v":7},{"d":6,"c":57,"v":6},{"d":6,"c":58,"v":0},{"d":6,"c":59,"v":6},{"d":6,"c":60,"v":9},{"d":6,"c":61,"v":0},{"d":6,"c":62,"v":0},{"d":6,"c":63,"v":0},{"d":6,"c":64,"v":0},{"d":6,"c":65,"v":3},{"d":6,"c":66,"v":1},{"d":6,"c":67,"v":0},{"d":6,"c":68,"v":4},{"d":6,"c":69,"v":40},{"d":6,"c":70,"v":10},{"d":6,"c":71,"v":44},{"d":6,"c":72,"v":37},{"d":6,"c":73,"v":21},{"d":6,"c":74,"v":14},{"d":6,"c":75,"v":35},{"d":6,"c":76,"v":40},{"d":6,"c":77,"v":43},{"d":6,"c":78,"v":15},{"d":6,"c":79,"v":3},{"d":6,"c":80,"v":0},{"d":6,"c":81,"v":0},{"d":6,"c":82,"v":0},{"d":6,"c":83,"v":4},{"d":6,"c":84,"v":0},{"d":6,"c":85,"v":0},{"d":6,"c":86,"v":7},{"d":6,"c":87,"v":10},{"d":6,"c":88,"v":9},{"d":6,"c":89,"v":0},{"d":6,"c":90,"v":0},{"d":6,"c":91,"v":0},{"d":6,"c":92,"v":0},{"d":6,"c":93,"v":0},{"d":6,"c":94,"v":0},{"d":6,"c":95,"v":0},{"d":6,"c":96,"v":39},{"d":6,"c":97,"v":15},{"d":6,"c":98,"v":21},{"d":6,"c":99,"v":0},{"d":6,"c":100,"v":7},{"d":6,"c":101,"v":0},{"d":6,"c":102,"v":0},{"d":6,"c":103,"v":0},{"d":6,"c":104,"v":0},{"d":6,"c":105,"v":0},{"d":6,"c":106,"v":0},{"d":6,"c":107,"v":0},
{"d":7,"c":0,"v":16},{"d":7,"c":1,"v":14},{"d":7,"c":2,"v":16},{"d":7,"c":3,"v":14},{"d":7,"c":4,"v":13},{"d":7,"c":5,"v":9},{"d":7,"c":6,"v":13},{"d":7,"c":7,"v":12},{"d":7,"c":8,"v":17},{"d":7,"c":9,"v":13},{"d":7,"c":10,"v":11},{"d":7,"c":11,"v":10},{"d":7,"c":12,"v":13},{"d":7,"c":13,"v":7},{"d":7,"c":14,"v":13},{"d":7,"c":15,"v":11},{"d":7,"c":16,"v":10},{"d":7,"c":17,"v":12},{"d":7,"c":18,"v":9},{"d":7,"c":19,"v":18},{"d":7,"c":20,"v":12},{"d":7,"c":21,"v":19},{"d":7,"c":22,"v":20},{"d":7,"c":23,"v":14},{"d":7,"c":24,"v":13},{"d":7,"c":25,"v":14},{"d":7,"c":26,"v":13},{"d":7,"c":27,"v":14},{"d":7,"c":28,"v":13},{"d":7,"c":29,"v":13},{"d":7,"c":30,"v":16},{"d":7,"c":31,"v":13},{"d":7,"c":32,"v":20},{"d":7,"c":33,"v":16},{"d":7,"c":34,"v":10},{"d":7,"c":35,"v":13},{"d":7,"c":36,"v":13},{"d":7,"c":37,"v":14},{"d":7,"c":38,"v":12},{"d":7,"c":39,"v":13},{"d":7,"c":40,"v":14},{"d":7,"c":41,"v":15},{"d":7,"c":42,"v":14},{"d":7,"c":43,"v":15},{"d":7,"c":44,"v":12},{"d":7,"c":45,"v":11},{"d":7,"c":46,"v":6},{"d":7,"c":47,"v":10},{"d":7,"c":48,"v":11},{"d":7,"c":49,"v":14},{"d":7,"c":50,"v":12},{"d":7,"c":51,"v":13},{"d":7,"c":52,"v":5},{"d":7,"c":53,"v":5},{"d":7,"c":54,"v":6},{"d":7,"c":55,"v":18},{"d":7,"c":56,"v":13},{"d":7,"c":57,"v":13},{"d":7,"c":58,"v":14},{"d":7,"c":59,"v":13},{"d":7,"c":60,"v":13},{"d":7,"c":61,"v":10},{"d":7,"c":62,"v":15},{"d":7,"c":63,"v":13},{"d":7,"c":64,"v":14},{"d":7,"c":65,"v":14},{"d":7,"c":66,"v":13},{"d":7,"c":67,"v":14},{"d":7,"c":68,"v":14},{"d":7,"c":69,"v":24},{"d":7,"c":70,"v":13},{"d":7,"c":71,"v":54},{"d":7,"c":72,"v":25},{"d":7,"c":73,"v":20},{"d":7,"c":74,"v":31},{"d":7,"c":75,"v":34},{"d":7,"c":76,"v":30},{"d":7,"c":77,"v":36},{"d":7,"c":78,"v":30},{"d":7,"c":79,"v":16},{"d":7,"c":80,"v":16},{"d":7,"c":81,"v":9},{"d":7,"c":82,"v":14},{"d":7,"c":83,"v":15},{"d":7,"c":84,"v":14},{"d":7,"c":85,"v":14},{"d":7,"c":86,"v":15},{"d":7,"c":87,"v":17},{"d":7,"c":88,"v":15},{"d":7,"c":89,"v":13},{"d":7,"c":90,"v":13},{"d":7,"c":91,"v":14},{"d":7,"c":92,"v":14},{"d":7,"c":93,"v":13},{"d":7,"c":94,"v":10},{"d":7,"c":95,"v":12},{"d":7,"c":96,"v":26},{"d":7,"c":97,"v":20},{"d":7,"c":98,"v":13},{"d":7,"c":99,"v":15},{"d":7,"c":100,"v":14},{"d":7,"c":101,"v":12},{"d":7,"c":102,"v":14},{"d":7,"c":103,"v":15},{"d":7,"c":104,"v":10},{"d":7,"c":105,"v":12},{"d":7,"c":106,"v":13},{"d":7,"c":107,"v":10},
{"d":8,"c":0,"v":3},{"d":8,"c":1,"v":1},{"d":8,"c":2,"v":0},{"d":8,"c":3,"v":0},{"d":8,"c":4,"v":3},{"d":8,"c":5,"v":0},{"d":8,"c":6,"v":3},{"d":8,"c":7,"v":0},{"d":8,"c":8,"v":0},{"d":8,"c":9,"v":0},{"d":8,"c":10,"v":0},{"d":8,"c":11,"v":0},{"d":8,"c":12,"v":2},{"d":8,"c":13,"v":0},{"d":8,"c":14,"v":0},{"d":8,"c":15,"v":0},{"d":8,"c":16,"v":0},{"d":8,"c":17,"v":2},{"d":8,"c":18,"v":0},{"d":8,"c":19,"v":0},{"d":8,"c":20,"v":0},{"d":8,"c":21,"v":13},{"d":8,"c":22,"v":12},{"d":8,"c":23,"v":6},{"d":8,"c":24,"v":2},{"d":8,"c":25,"v":6},{"d":8,"c":26,"v":7},{"d":8,"c":27,"v":3},{"d":8,"c":28,"v":7},{"d":8,"c":29,"v":3},{"d":8,"c":30,"v":3},{"d":8,"c":31,"v":0},{"d":8,"c":32,"v":1},{"d":8,"c":33,"v":2},{"d":8,"c":34,"v":0},{"d":8,"c":35,"v":2},{"d":8,"c":36,"v":3},{"d":8,"c":37,"v":3},{"d":8,"c":38,"v":0},{"d":8,"c":39,"v":3},{"d":8,"c":40,"v":0},{"d":8,"c":41,"v":0},{"d":8,"c":42,"v":4},{"d":8,"c":43,"v":7},{"d":8,"c":44,"v":0},{"d":8,"c":45,"v":0},{"d":8,"c":46,"v":0},{"d":8,"c":47,"v":0},{"d":8,"c":48,"v":0},{"d":8,"c":49,"v":0},{"d":8,"c":50,"v":0},{"d":8,"c":51,"v":0},{"d":8,"c":52,"v":0},{"d":8,"c":53,"v":0},{"d":8,"c":54,"v":0},{"d":8,"c":55,"v":3},{"d":8,"c":56,"v":0},{"d":8,"c":57,"v":0},{"d":8,"c":58,"v":0},{"d":8,"c":59,"v":1},{"d":8,"c":60,"v":0},{"d":8,"c":61,"v":0},{"d":8,"c":62,"v":0},{"d":8,"c":63,"v":0},{"d":8,"c":64,"v":0},{"d":8,"c":65,"v":0},{"d":8,"c":66,"v":0},{"d":8,"c":67,"v":0},{"d":8,"c":68,"v":8},{"d":8,"c":69,"v":7},{"d":8,"c":70,"v":7},{"d":8,"c":71,"v":44},{"d":8,"c":72,"v":15},{"d":8,"c":73,"v":39},{"d":8,"c":74,"v":26},{"d":8,"c":75,"v":26},{"d":8,"c":76,"v":20},{"d":8,"c":77,"v":25},{"d":8,"c":78,"v":25},{"d":8,"c":79,"v":5},{"d":8,"c":80,"v":4},{"d":8,"c":81,"v":0},{"d":8,"c":82,"v":1},{"d":8,"c":83,"v":4},{"d":8,"c":84,"v":0},{"d":8,"c":85,"v":0},{"d":8,"c":86,"v":0},{"d":8,"c":87,"v":0},{"d":8,"c":88,"v":0},{"d":8,"c":89,"v":0},{"d":8,"c":90,"v":3},{"d":8,"c":91,"v":2},{"d":8,"c":92,"v":3},{"d":8,"c":93,"v":0},{"d":8,"c":94,"v":3},{"d":8,"c":95,"v":0},{"d":8,"c":96,"v":8},{"d":8,"c":97,"v":9},{"d":8,"c":98,"v":0},{"d":8,"c":99,"v":0},{"d":8,"c":100,"v":0},{"d":8,"c":101,"v":0},{"d":8,"c":102,"v":0},{"d":8,"c":103,"v":0},{"d":8,"c":104,"v":0},{"d":8,"c":105,"v":2},{"d":8,"c":106,"v":0},{"d":8,"c":107,"v":0},
{"d":9,"c":0,"v":34},{"d":9,"c":1,"v":39},{"d":9,"c":2,"v":41},{"d":9,"c":3,"v":32},{"d":9,"c":4,"v":24},{"d":9,"c":5,"v":13},{"d":9,"c":6,"v":25},{"d":9,"c":7,"v":26},{"d":9,"c":8,"v":16},{"d":9,"c":9,"v":23},{"d":9,"c":10,"v":25},{"d":9,"c":11,"v":12},{"d":9,"c":12,"v":12},{"d":9,"c":13,"v":6},{"d":9,"c":14,"v":15},{"d":9,"c":15,"v":13},{"d":9,"c":16,"v":13},{"d":9,"c":17,"v":13},{"d":9,"c":18,"v":8},{"d":9,"c":19,"v":46},{"d":9,"c":20,"v":22},{"d":9,"c":21,"v":30},{"d":9,"c":22,"v":24},{"d":9,"c":23,"v":19},{"d":9,"c":24,"v":21},{"d":9,"c":25,"v":23},{"d":9,"c":26,"v":28},{"d":9,"c":27,"v":26},{"d":9,"c":28,"v":24},{"d":9,"c":29,"v":24},{"d":9,"c":30,"v":37},{"d":9,"c":31,"v":12},{"d":9,"c":32,"v":30},{"d":9,"c":33,"v":24},{"d":9,"c":34,"v":12},{"d":9,"c":35,"v":20},{"d":9,"c":36,"v":24},{"d":9,"c":37,"v":14},{"d":9,"c":38,"v":15},{"d":9,"c":39,"v":14},{"d":9,"c":40,"v":14},{"d":9,"c":41,"v":13},{"d":9,"c":42,"v":16},{"d":9,"c":43,"v":29},{"d":9,"c":44,"v":0},{"d":9,"c":45,"v":12},{"d":9,"c":46,"v":17},{"d":9,"c":47,"v":11},{"d":9,"c":48,"v":14},{"d":9,"c":49,"v":13},{"d":9,"c":50,"v":20},{"d":9,"c":51,"v":10},{"d":9,"c":52,"v":14},{"d":9,"c":53,"v":6},{"d":9,"c":54,"v":5},{"d":9,"c":55,"v":33},{"d":9,"c":56,"v":21},{"d":9,"c":57,"v":20},{"d":9,"c":58,"v":19},{"d":9,"c":59,"v":14},{"d":9,"c":60,"v":27},{"d":9,"c":61,"v":26},{"d":9,"c":62,"v":17},{"d":9,"c":63,"v":18},{"d":9,"c":64,"v":25},{"d":9,"c":65,"v":33},{"d":9,"c":66,"v":29},{"d":9,"c":67,"v":7},{"d":9,"c":68,"v":31},{"d":9,"c":69,"v":54},{"d":9,"c":70,"v":38},{"d":9,"c":71,"v":25},{"d":9,"c":72,"v":21},{"d":9,"c":73,"v":33},{"d":9,"c":74,"v":37},{"d":9,"c":75,"v":43},{"d":9,"c":76,"v":42},{"d":9,"c":77,"v":36},{"d":9,"c":78,"v":34},{"d":9,"c":79,"v":30},{"d":9,"c":80,"v":20},{"d":9,"c":81,"v":34},{"d":9,"c":82,"v":31},{"d":9,"c":83,"v":30},{"d":9,"c":84,"v":27},{"d":9,"c":85,"v":23},{"d":9,"c":86,"v":20},{"d":9,"c":87,"v":28},{"d":9,"c":88,"v":13},{"d":9,"c":89,"v":35},{"d":9,"c":90,"v":26},{"d":9,"c":91,"v":23},{"d":9,"c":92,"v":31},{"d":9,"c":93,"v":33},{"d":9,"c":94,"v":30},{"d":9,"c":95,"v":31},{"d":9,"c":96,"v":40},{"d":9,"c":97,"v":35},{"d":9,"c":98,"v":40},{"d":9,"c":99,"v":48},{"d":9,"c":100,"v":42},{"d":9,"c":101,"v":37},{"d":9,"c":102,"v":49},{"d":9,"c":103,"v":45},{"d":9,"c":104,"v":39},{"d":9,"c":105,"v":42},{"d":9,"c":106,"v":39},{"d":9,"c":107,"v":42},
{"d":10,"c":0,"v":14},{"d":10,"c":1,"v":16},{"d":10,"c":2,"v":10},{"d":10,"c":3,"v":12},{"d":10,"c":4,"v":20},{"d":10,"c":5,"v":10},{"d":10,"c":6,"v":12},{"d":10,"c":7,"v":10},{"d":10,"c":8,"v":13},{"d":10,"c":9,"v":11},{"d":10,"c":10,"v":0},{"d":10,"c":11,"v":9},{"d":10,"c":12,"v":7},{"d":10,"c":13,"v":30},{"d":10,"c":14,"v":8},{"d":10,"c":15,"v":9},{"d":10,"c":16,"v":10},{"d":10,"c":17,"v":6},{"d":10,"c":18,"v":6},{"d":10,"c":19,"v":6},{"d":10,"c":20,"v":18},{"d":10,"c":21,"v":24},{"d":10,"c":22,"v":23},{"d":10,"c":23,"v":15},{"d":10,"c":24,"v":35},{"d":10,"c":25,"v":32},{"d":10,"c":26,"v":37},{"d":10,"c":27,"v":33},{"d":10,"c":28,"v":36},{"d":10,"c":29,"v":37},{"d":10,"c":30,"v":25},{"d":10,"c":31,"v":10},{"d":10,"c":32,"v":9},{"d":10,"c":33,"v":19},{"d":10,"c":34,"v":34},{"d":10,"c":35,"v":14},{"d":10,"c":36,"v":14},{"d":10,"c":37,"v":11},{"d":10,"c":38,"v":13},{"d":10,"c":39,"v":12},{"d":10,"c":40,"v":8},{"d":10,"c":41,"v":10},{"d":10,"c":42,"v":13},{"d":10,"c":43,"v":12},{"d":10,"c":44,"v":8},{"d":10,"c":45,"v":10},{"d":10,"c":46,"v":5},{"d":10,"c":47,"v":6},{"d":10,"c":48,"v":7},{"d":10,"c":49,"v":7},{"d":10,"c":50,"v":7},{"d":10,"c":51,"v":8},{"d":10,"c":52,"v":10},{"d":10,"c":53,"v":5},{"d":10,"c":54,"v":5},{"d":10,"c":55,"v":10},{"d":10,"c":56,"v":10},{"d":10,"c":57,"v":9},{"d":10,"c":58,"v":12},{"d":10,"c":59,"v":8},{"d":10,"c":60,"v":22},{"d":10,"c":61,"v":7},{"d":10,"c":62,"v":13},{"d":10,"c":63,"v":12},{"d":10,"c":64,"v":13},{"d":10,"c":65,"v":7},{"d":10,"c":66,"v":9},{"d":10,"c":67,"v":0},{"d":10,"c":68,"v":42},{"d":10,"c":69,"v":48},{"d":10,"c":70,"v":41},{"d":10,"c":71,"v":32},{"d":10,"c":72,"v":11},{"d":10,"c":73,"v":25},{"d":10,"c":74,"v":13},{"d":10,"c":75,"v":7},{"d":10,"c":76,"v":24},{"d":10,"c":77,"v":42},{"d":10,"c":78,"v":45},{"d":10,"c":79,"v":40},{"d":10,"c":80,"v":20},{"d":10,"c":81,"v":12},{"d":10,"c":82,"v":14},{"d":10,"c":83,"v":30},{"d":10,"c":84,"v":35},{"d":10,"c":85,"v":36},{"d":10,"c":86,"v":48},{"d":10,"c":87,"v":34},{"d":10,"c":88,"v":46},{"d":10,"c":89,"v":32},{"d":10,"c":90,"v":35},{"d":10,"c":91,"v":41},{"d":10,"c":92,"v":39},{"d":10,"c":93,"v":33},{"d":10,"c":94,"v":32},{"d":10,"c":95,"v":33},{"d":10,"c":96,"v":45},{"d":10,"c":97,"v":41},{"d":10,"c":98,"v":41},{"d":10,"c":99,"v":36},{"d":10,"c":100,"v":34},{"d":10,"c":101,"v":47},{"d":10,"c":102,"v":40},{"d":10,"c":103,"v":50},{"d":10,"c":104,"v":42},{"d":10,"c":105,"v":41},{"d":10,"c":106,"v":39},{"d":10,"c":107,"v":40},
{"d":11,"c":0,"v":10},{"d":11,"c":1,"v":12},{"d":11,"c":2,"v":4},{"d":11,"c":3,"v":6},{"d":11,"c":4,"v":23},{"d":11,"c":5,"v":30},{"d":11,"c":6,"v":8},{"d":11,"c":7,"v":10},{"d":11,"c":8,"v":4},{"d":11,"c":9,"v":3},{"d":11,"c":10,"v":12},{"d":11,"c":11,"v":2},{"d":11,"c":12,"v":7},{"d":11,"c":13,"v":4},{"d":11,"c":14,"v":3},{"d":11,"c":15,"v":1},{"d":11,"c":16,"v":4},{"d":11,"c":17,"v":6},{"d":11,"c":18,"v":0},{"d":11,"c":19,"v":24},{"d":11,"c":20,"v":21},{"d":11,"c":21,"v":17},{"d":11,"c":22,"v":22},{"d":11,"c":23,"v":14},{"d":11,"c":24,"v":25},{"d":11,"c":25,"v":17},{"d":11,"c":26,"v":23},{"d":11,"c":27,"v":19},{"d":11,"c":28,"v":29},{"d":11,"c":29,"v":15},{"d":11,"c":30,"v":17},{"d":11,"c":31,"v":0},{"d":11,"c":32,"v":4},{"d":11,"c":33,"v":12},{"d":11,"c":34,"v":4},{"d":11,"c":35,"v":9},{"d":11,"c":36,"v":5},{"d":11,"c":37,"v":4},{"d":11,"c":38,"v":4},{"d":11,"c":39,"v":2},{"d":11,"c":40,"v":7},{"d":11,"c":41,"v":3},{"d":11,"c":42,"v":5},{"d":11,"c":43,"v":9},{"d":11,"c":44,"v":0},{"d":11,"c":45,"v":6},{"d":11,"c":46,"v":0},{"d":11,"c":47,"v":2},{"d":11,"c":48,"v":1},{"d":11,"c":49,"v":3},{"d":11,"c":50,"v":1},{"d":11,"c":51,"v":2},{"d":11,"c":52,"v":22},{"d":11,"c":53,"v":0},{"d":11,"c":54,"v":0},{"d":11,"c":55,"v":3},{"d":11,"c":56,"v":4},{"d":11,"c":57,"v":5},{"d":11,"c":58,"v":27},{"d":11,"c":59,"v":3},{"d":11,"c":60,"v":9},{"d":11,"c":61,"v":1},{"d":11,"c":62,"v":20},{"d":11,"c":63,"v":5},{"d":11,"c":64,"v":3},{"d":11,"c":65,"v":7},{"d":11,"c":66,"v":0},{"d":11,"c":67,"v":0},{"d":11,"c":68,"v":29},{"d":11,"c":69,"v":40},{"d":11,"c":70,"v":34},{"d":11,"c":71,"v":34},{"d":11,"c":72,"v":24},{"d":11,"c":73,"v":28},{"d":11,"c":74,"v":4},{"d":11,"c":75,"v":3},{"d":11,"c":76,"v":7},{"d":11,"c":77,"v":7},{"d":11,"c":78,"v":15},{"d":11,"c":79,"v":23},{"d":11,"c":80,"v":13},{"d":11,"c":81,"v":24},{"d":11,"c":82,"v":35},{"d":11,"c":83,"v":39},{"d":11,"c":84,"v":16},{"d":11,"c":85,"v":30},{"d":11,"c":86,"v":21},{"d":11,"c":87,"v":24},{"d":11,"c":88,"v":39},{"d":11,"c":89,"v":8},{"d":11,"c":90,"v":14},{"d":11,"c":91,"v":17},{"d":11,"c":92,"v":29},{"d":11,"c":93,"v":24},{"d":11,"c":94,"v":26},{"d":11,"c":95,"v":24},{"d":11,"c":96,"v":31},{"d":11,"c":97,"v":34},{"d":11,"c":98,"v":34},{"d":11,"c":99,"v":21},{"d":11,"c":100,"v":23},{"d":11,"c":101,"v":35},{"d":11,"c":102,"v":33},{"d":11,"c":103,"v":31},{"d":11,"c":104,"v":36},{"d":11,"c":105,"v":33},{"d":11,"c":106,"v":13},{"d":11,"c":107,"v":24},
{"d":12,"c":0,"v":0},{"d":12,"c":1,"v":0},{"d":12,"c":2,"v":0},{"d":12,"c":3,"v":0},{"d":12,"c":4,"v":0},{"d":12,"c":5,"v":0},{"d":12,"c":6,"v":0},{"d":12,"c":7,"v":0},{"d":12,"c":8,"v":0},{"d":12,"c":9,"v":0},{"d":12,"c":10,"v":0},{"d":12,"c":11,"v":0},{"d":12,"c":12,"v":0},{"d":12,"c":13,"v":0},{"d":12,"c":14,"v":0},{"d":12,"c":15,"v":0},{"d":12,"c":16,"v":0},{"d":12,"c":17,"v":0},{"d":12,"c":18,"v":0},{"d":12,"c":19,"v":0},{"d":12,"c":20,"v":0},{"d":12,"c":21,"v":9},{"d":12,"c":22,"v":9},{"d":12,"c":23,"v":10},{"d":12,"c":24,"v":0},{"d":12,"c":25,"v":0},{"d":12,"c":26,"v":0},{"d":12,"c":27,"v":0},{"d":12,"c":28,"v":0},{"d":12,"c":29,"v":0},{"d":12,"c":30,"v":0},{"d":12,"c":31,"v":13},{"d":12,"c":32,"v":12},{"d":12,"c":33,"v":8},{"d":12,"c":34,"v":14},{"d":12,"c":35,"v":0},{"d":12,"c":36,"v":0},{"d":12,"c":37,"v":0},{"d":12,"c":38,"v":0},{"d":12,"c":39,"v":0},{"d":12,"c":40,"v":15},{"d":12,"c":41,"v":11},{"d":12,"c":42,"v":0},{"d":12,"c":43,"v":0},{"d":12,"c":44,"v":0},{"d":12,"c":45,"v":0},{"d":12,"c":46,"v":0},{"d":12,"c":47,"v":14},{"d":12,"c":48,"v":0},{"d":12,"c":49,"v":13},{"d":12,"c":50,"v":0},{"d":12,"c":51,"v":14},{"d":12,"c":52,"v":0},{"d":12,"c":53,"v":0},{"d":12,"c":54,"v":0},{"d":12,"c":55,"v":17},{"d":12,"c":56,"v":26},{"d":12,"c":57,"v":20},{"d":12,"c":58,"v":0},{"d":12,"c":59,"v":0},{"d":12,"c":60,"v":0},{"d":12,"c":61,"v":0},{"d":12,"c":62,"v":21},{"d":12,"c":63,"v":17},{"d":12,"c":64,"v":17},{"d":12,"c":65,"v":0},{"d":12,"c":66,"v":0},{"d":12,"c":67,"v":0},{"d":12,"c":68,"v":0},{"d":12,"c":69,"v":0},{"d":12,"c":70,"v":0},{"d":12,"c":71,"v":0},{"d":12,"c":72,"v":0},{"d":12,"c":73,"v":0},{"d":12,"c":74,"v":0},{"d":12,"c":75,"v":8},{"d":12,"c":76,"v":26},{"d":12,"c":77,"v":0},{"d":12,"c":78,"v":0},{"d":12,"c":79,"v":30},{"d":12,"c":80,"v":27},{"d":12,"c":81,"v":0},{"d":12,"c":82,"v":0},{"d":12,"c":83,"v":14},{"d":12,"c":84,"v":8},{"d":12,"c":85,"v":0},{"d":12,"c":86,"v":0},{"d":12,"c":87,"v":0},{"d":12,"c":88,"v":0},{"d":12,"c":89,"v":0},{"d":12,"c":90,"v":0},{"d":12,"c":91,"v":0},{"d":12,"c":92,"v":0},{"d":12,"c":93,"v":0},{"d":12,"c":94,"v":0},{"d":12,"c":95,"v":0},{"d":12,"c":96,"v":0},{"d":12,"c":97,"v":0},{"d":12,"c":98,"v":0},{"d":12,"c":99,"v":9},{"d":12,"c":100,"v":8},{"d":12,"c":101,"v":0},{"d":12,"c":102,"v":9},{"d":12,"c":103,"v":9},{"d":12,"c":104,"v":0},{"d":12,"c":105,"v":0},{"d":12,"c":106,"v":0},{"d":12,"c":107,"v":15},
{"d":13,"c":0,"v":19},{"d":13,"c":1,"v":14},{"d":13,"c":2,"v":7},{"d":13,"c":3,"v":16},{"d":13,"c":4,"v":20},{"d":13,"c":5,"v":20},{"d":13,"c":6,"v":21},{"d":13,"c":7,"v":24},{"d":13,"c":8,"v":22},{"d":13,"c":9,"v":20},{"d":13,"c":10,"v":21},{"d":13,"c":11,"v":16},{"d":13,"c":12,"v":19},{"d":13,"c":13,"v":10},{"d":13,"c":14,"v":24},{"d":13,"c":15,"v":12},{"d":13,"c":16,"v":21},{"d":13,"c":17,"v":18},{"d":13,"c":18,"v":25},{"d":13,"c":19,"v":23},{"d":13,"c":20,"v":18},{"d":13,"c":21,"v":15},{"d":13,"c":22,"v":21},{"d":13,"c":23,"v":21},{"d":13,"c":24,"v":14},{"d":13,"c":25,"v":18},{"d":13,"c":26,"v":20},{"d":13,"c":27,"v":12},{"d":13,"c":28,"v":10},{"d":13,"c":29,"v":27},{"d":13,"c":30,"v":22},{"d":13,"c":31,"v":20},{"d":13,"c":32,"v":21},{"d":13,"c":33,"v":23},{"d":13,"c":34,"v":18},{"d":13,"c":35,"v":14},{"d":13,"c":36,"v":15},{"d":13,"c":37,"v":27},{"d":13,"c":38,"v":14},{"d":13,"c":39,"v":18},{"d":13,"c":40,"v":14},{"d":13,"c":41,"v":20},{"d":13,"c":42,"v":22},{"d":13,"c":43,"v":15},{"d":13,"c":44,"v":30},{"d":13,"c":45,"v":12},{"d":13,"c":46,"v":23},{"d":13,"c":47,"v":13},{"d":13,"c":48,"v":10},{"d":13,"c":49,"v":24},{"d":13,"c":50,"v":14},{"d":13,"c":51,"v":14},{"d":13,"c":52,"v":17},{"d":13,"c":53,"v":12},{"d":13,"c":54,"v":24},{"d":13,"c":55,"v":26},{"d":13,"c":56,"v":31},{"d":13,"c":57,"v":24},{"d":13,"c":58,"v":24},{"d":13,"c":59,"v":24},{"d":13,"c":60,"v":22},{"d":13,"c":61,"v":24},{"d":13,"c":62,"v":22},{"d":13,"c":63,"v":22},{"d":13,"c":64,"v":21},{"d":13,"c":65,"v":26},{"d":13,"c":66,"v":16},{"d":13,"c":67,"v":18},{"d":13,"c":68,"v":20},{"d":13,"c":69,"v":31},{"d":13,"c":70,"v":24},{"d":13,"c":71,"v":20},{"d":13,"c":72,"v":18},{"d":13,"c":73,"v":20},{"d":13,"c":74,"v":15},{"d":13,"c":75,"v":23},{"d":13,"c":76,"v":32},{"d":13,"c":77,"v":34},{"d":13,"c":78,"v":20},{"d":13,"c":79,"v":48},{"d":13,"c":80,"v":45},{"d":13,"c":81,"v":22},{"d":13,"c":82,"v":17},{"d":13,"c":83,"v":22},{"d":13,"c":84,"v":18},{"d":13,"c":85,"v":17},{"d":13,"c":86,"v":16},{"d":13,"c":87,"v":17},{"d":13,"c":88,"v":17},{"d":13,"c":89,"v":23},{"d":13,"c":90,"v":22},{"d":13,"c":91,"v":19},{"d":13,"c":92,"v":20},{"d":13,"c":93,"v":25},{"d":13,"c":94,"v":20},{"d":13,"c":95,"v":21},{"d":13,"c":96,"v":27},{"d":13,"c":97,"v":26},{"d":13,"c":98,"v":22},{"d":13,"c":99,"v":18},{"d":13,"c":100,"v":15},{"d":13,"c":101,"v":21},{"d":13,"c":102,"v":24},{"d":13,"c":103,"v":21},{"d":13,"c":104,"v":26},{"d":13,"c":105,"v":24},{"d":13,"c":106,"v":0},{"d":13,"c":107,"v":9},
{"d":14,"c":0,"v":15},{"d":14,"c":1,"v":19},{"d":14,"c":2,"v":20},{"d":14,"c":3,"v":14},{"d":14,"c":4,"v":13},{"d":14,"c":5,"v":13},{"d":14,"c":6,"v":15},{"d":14,"c":7,"v":15},{"d":14,"c":8,"v":17},{"d":14,"c":9,"v":15},{"d":14,"c":10,"v":13},{"d":14,"c":11,"v":14},{"d":14,"c":12,"v":17},{"d":14,"c":13,"v":12},{"d":14,"c":14,"v":20},{"d":14,"c":15,"v":12},{"d":14,"c":16,"v":14},{"d":14,"c":17,"v":12},{"d":14,"c":18,"v":15},{"d":14,"c":19,"v":14},{"d":14,"c":20,"v":12},{"d":14,"c":21,"v":16},{"d":14,"c":22,"v":16},{"d":14,"c":23,"v":18},{"d":14,"c":24,"v":13},{"d":14,"c":25,"v":14},{"d":14,"c":26,"v":13},{"d":14,"c":27,"v":14},{"d":14,"c":28,"v":13},{"d":14,"c":29,"v":22},{"d":14,"c":30,"v":14},{"d":14,"c":31,"v":13},{"d":14,"c":32,"v":13},{"d":14,"c":33,"v":16},{"d":14,"c":34,"v":13},{"d":14,"c":35,"v":14},{"d":14,"c":36,"v":15},{"d":14,"c":37,"v":22},{"d":14,"c":38,"v":14},{"d":14,"c":39,"v":19},{"d":14,"c":40,"v":13},{"d":14,"c":41,"v":14},{"d":14,"c":42,"v":13},{"d":14,"c":43,"v":14},{"d":14,"c":44,"v":14},{"d":14,"c":45,"v":12},{"d":14,"c":46,"v":11},{"d":14,"c":47,"v":13},{"d":14,"c":48,"v":14},{"d":14,"c":49,"v":20},{"d":14,"c":50,"v":10},{"d":14,"c":51,"v":13},{"d":14,"c":52,"v":13},{"d":14,"c":53,"v":10},{"d":14,"c":54,"v":15},{"d":14,"c":55,"v":13},{"d":14,"c":56,"v":21},{"d":14,"c":57,"v":19},{"d":14,"c":58,"v":18},{"d":14,"c":59,"v":14},{"d":14,"c":60,"v":15},{"d":14,"c":61,"v":16},{"d":14,"c":62,"v":15},{"d":14,"c":63,"v":16},{"d":14,"c":64,"v":14},{"d":14,"c":65,"v":14},{"d":14,"c":66,"v":15},{"d":14,"c":67,"v":15},{"d":14,"c":68,"v":15},{"d":14,"c":69,"v":13},{"d":14,"c":70,"v":20},{"d":14,"c":71,"v":15},{"d":14,"c":72,"v":13},{"d":14,"c":73,"v":12},{"d":14,"c":74,"v":13},{"d":14,"c":75,"v":13},{"d":14,"c":76,"v":13},{"d":14,"c":77,"v":17},{"d":14,"c":78,"v":17},{"d":14,"c":79,"v":34},{"d":14,"c":80,"v":35},{"d":14,"c":81,"v":12},{"d":14,"c":82,"v":13},{"d":14,"c":83,"v":11},{"d":14,"c":84,"v":15},{"d":14,"c":85,"v":14},{"d":14,"c":86,"v":14},{"d":14,"c":87,"v":15},{"d":14,"c":88,"v":13},{"d":14,"c":89,"v":19},{"d":14,"c":90,"v":17},{"d":14,"c":91,"v":18},{"d":14,"c":92,"v":17},{"d":14,"c":93,"v":17},{"d":14,"c":94,"v":14},{"d":14,"c":95,"v":18},{"d":14,"c":96,"v":20},{"d":14,"c":97,"v":18},{"d":14,"c":98,"v":14},{"d":14,"c":99,"v":17},{"d":14,"c":100,"v":13},{"d":14,"c":101,"v":21},{"d":14,"c":102,"v":17},{"d":14,"c":103,"v":26},{"d":14,"c":104,"v":12},{"d":14,"c":105,"v":12},{"d":14,"c":106,"v":15},{"d":14,"c":107,"v":12},
{"d":15,"c":0,"v":20},{"d":15,"c":1,"v":18},{"d":15,"c":2,"v":14},{"d":15,"c":3,"v":20},{"d":15,"c":4,"v":25},{"d":15,"c":5,"v":19},{"d":15,"c":6,"v":19},{"d":15,"c":7,"v":22},{"d":15,"c":8,"v":23},{"d":15,"c":9,"v":21},{"d":15,"c":10,"v":21},{"d":15,"c":11,"v":10},{"d":15,"c":12,"v":25},{"d":15,"c":13,"v":10},{"d":15,"c":14,"v":8},{"d":15,"c":15,"v":19},{"d":15,"c":16,"v":21},{"d":15,"c":17,"v":18},{"d":15,"c":18,"v":15},{"d":15,"c":19,"v":0},{"d":15,"c":20,"v":24},{"d":15,"c":21,"v":25},{"d":15,"c":22,"v":25},{"d":15,"c":23,"v":25},{"d":15,"c":24,"v":25},{"d":15,"c":25,"v":25},{"d":15,"c":26,"v":9},{"d":15,"c":27,"v":16},{"d":15,"c":28,"v":14},{"d":15,"c":29,"v":26},{"d":15,"c":30,"v":26},{"d":15,"c":31,"v":23},{"d":15,"c":32,"v":22},{"d":15,"c":33,"v":26},{"d":15,"c":34,"v":25},{"d":15,"c":35,"v":25},{"d":15,"c":36,"v":25},{"d":15,"c":37,"v":19},{"d":15,"c":38,"v":22},{"d":15,"c":39,"v":25},{"d":15,"c":40,"v":22},{"d":15,"c":41,"v":24},{"d":15,"c":42,"v":28},{"d":15,"c":43,"v":24},{"d":15,"c":44,"v":26},{"d":15,"c":45,"v":11},{"d":15,"c":46,"v":18},{"d":15,"c":47,"v":22},{"d":15,"c":48,"v":17},{"d":15,"c":49,"v":17},{"d":15,"c":50,"v":25},{"d":15,"c":51,"v":25},{"d":15,"c":52,"v":20},{"d":15,"c":53,"v":22},{"d":15,"c":54,"v":14},{"d":15,"c":55,"v":24},{"d":15,"c":56,"v":23},{"d":15,"c":57,"v":24},{"d":15,"c":58,"v":25},{"d":15,"c":59,"v":27},{"d":15,"c":60,"v":22},{"d":15,"c":61,"v":14},{"d":15,"c":62,"v":18},{"d":15,"c":63,"v":21},{"d":15,"c":64,"v":18},{"d":15,"c":65,"v":16},{"d":15,"c":66,"v":20},{"d":15,"c":67,"v":12},{"d":15,"c":68,"v":23},{"d":15,"c":69,"v":20},{"d":15,"c":70,"v":29},{"d":15,"c":71,"v":30},{"d":15,"c":72,"v":22},{"d":15,"c":73,"v":24},{"d":15,"c":74,"v":17},{"d":15,"c":75,"v":23},{"d":15,"c":76,"v":26},{"d":15,"c":77,"v":27},{"d":15,"c":78,"v":20},{"d":15,"c":79,"v":28},{"d":15,"c":80,"v":17},{"d":15,"c":81,"v":24},{"d":15,"c":82,"v":24},{"d":15,"c":83,"v":24},{"d":15,"c":84,"v":26},{"d":15,"c":85,"v":21},{"d":15,"c":86,"v":18},{"d":15,"c":87,"v":17},{"d":15,"c":88,"v":19},{"d":15,"c":89,"v":23},{"d":15,"c":90,"v":23},{"d":15,"c":91,"v":20},{"d":15,"c":92,"v":24},{"d":15,"c":93,"v":24},{"d":15,"c":94,"v":24},{"d":15,"c":95,"v":23},{"d":15,"c":96,"v":31},{"d":15,"c":97,"v":28},{"d":15,"c":98,"v":24},{"d":15,"c":99,"v":30},{"d":15,"c":100,"v":24},{"d":15,"c":101,"v":12},{"d":15,"c":102,"v":24},{"d":15,"c":103,"v":22},{"d":15,"c":104,"v":35},{"d":15,"c":105,"v":32},{"d":15,"c":106,"v":15},{"d":15,"c":107,"v":13},
{"d":16,"c":0,"v":38},{"d":16,"c":1,"v":44},{"d":16,"c":2,"v":53},{"d":16,"c":3,"v":56},{"d":16,"c":4,"v":48},{"d":16,"c":5,"v":36},{"d":16,"c":6,"v":41},{"d":16,"c":7,"v":43},{"d":16,"c":8,"v":40},{"d":16,"c":9,"v":39},{"d":16,"c":10,"v":37},{"d":16,"c":11,"v":47},{"d":16,"c":12,"v":49},{"d":16,"c":13,"v":48},{"d":16,"c":14,"v":41},{"d":16,"c":15,"v":25},{"d":16,"c":16,"v":30},{"d":16,"c":17,"v":40},{"d":16,"c":18,"v":36},{"d":16,"c":19,"v":7},{"d":16,"c":20,"v":13},{"d":16,"c":21,"v":0},{"d":16,"c":22,"v":9},{"d":16,"c":23,"v":14},{"d":16,"c":24,"v":7},{"d":16,"c":25,"v":0},{"d":16,"c":26,"v":0},{"d":16,"c":27,"v":0},{"d":16,"c":28,"v":0},{"d":16,"c":29,"v":0},{"d":16,"c":30,"v":0},{"d":16,"c":31,"v":27},{"d":16,"c":32,"v":31},{"d":16,"c":33,"v":26},{"d":16,"c":34,"v":35},{"d":16,"c":35,"v":7},{"d":16,"c":36,"v":9},{"d":16,"c":37,"v":14},{"d":16,"c":38,"v":14},{"d":16,"c":39,"v":8},{"d":16,"c":40,"v":10},{"d":16,"c":41,"v":16},{"d":16,"c":42,"v":33},{"d":16,"c":43,"v":20},{"d":16,"c":44,"v":0},{"d":16,"c":45,"v":0},{"d":16,"c":46,"v":0},{"d":16,"c":47,"v":0},{"d":16,"c":48,"v":0},{"d":16,"c":49,"v":0},{"d":16,"c":50,"v":0},{"d":16,"c":51,"v":0},{"d":16,"c":52,"v":0},{"d":16,"c":53,"v":0},{"d":16,"c":54,"v":8},{"d":16,"c":55,"v":44},{"d":16,"c":56,"v":44},{"d":16,"c":57,"v":46},{"d":16,"c":58,"v":53},{"d":16,"c":59,"v":42},{"d":16,"c":60,"v":36},{"d":16,"c":61,"v":30},{"d":16,"c":62,"v":41},{"d":16,"c":63,"v":29},{"d":16,"c":64,"v":35},{"d":16,"c":65,"v":0},{"d":16,"c":66,"v":0},{"d":16,"c":67,"v":0},{"d":16,"c":68,"v":17},{"d":16,"c":69,"v":30},{"d":16,"c":70,"v":42},{"d":16,"c":71,"v":23},{"d":16,"c":72,"v":25},{"d":16,"c":73,"v":14},{"d":16,"c":74,"v":41},{"d":16,"c":75,"v":33},{"d":16,"c":76,"v":47},{"d":16,"c":77,"v":31},{"d":16,"c":78,"v":42},{"d":16,"c":79,"v":26},{"d":16,"c":80,"v":23},{"d":16,"c":81,"v":30},{"d":16,"c":82,"v":40},{"d":16,"c":83,"v":38},{"d":16,"c":84,"v":28},{"d":16,"c":85,"v":33},{"d":16,"c":86,"v":25},{"d":16,"c":87,"v":45},{"d":16,"c":88,"v":44},{"d":16,"c":89,"v":50},{"d":16,"c":90,"v":53},{"d":16,"c":91,"v":48},{"d":16,"c":92,"v":46},{"d":16,"c":93,"v":30},{"d":16,"c":94,"v":41},{"d":16,"c":95,"v":40},{"d":16,"c":96,"v":40},{"d":16,"c":97,"v":31},{"d":16,"c":98,"v":26},{"d":16,"c":99,"v":41},{"d":16,"c":100,"v":45},{"d":16,"c":101,"v":48},{"d":16,"c":102,"v":52},{"d":16,"c":103,"v":40},{"d":16,"c":104,"v":19},{"d":16,"c":105,"v":12},{"d":16,"c":106,"v":30},{"d":16,"c":107,"v":23}
]},
"hconcat":[
{"width":104,"height":1259,"data":{"name":"leftTree"},"layer":[
{"mark":{"type":"rule","color":"#111","strokeWidth":1.6,"strokeCap":"square"},"encoding":{"y":{"field":"a","type":"quantitative","axis":null,"scale":{"domain":[17,-1.539],"nice":false,"zero":false}},"y2":{"field":"b"},"x":{"field":"h","type":"quantitative","axis":null,"scale":{"domain":[182,0],"nice":false,"zero":false}}}},
{"mark":{"type":"rule","color":"#111","strokeWidth":1.6},"encoding":{"y":{"field":"a","type":"quantitative"},"x":{"field":"h","type":"quantitative"},"x2":{"field":"ha"}}},
{"mark":{"type":"rule","color":"#111","strokeWidth":1.6},"encoding":{"y":{"field":"b","type":"quantitative"},"x":{"field":"h","type":"quantitative"},"x2":{"field":"hb"}}}
]},
{"spacing":0,"bounds":"flush","vconcat":[
{"width":2264,"height":104,"data":{"name":"topTree"},"layer":[
{"mark":{"type":"rule","color":"#111","strokeWidth":1.6,"strokeCap":"square"},"encoding":{"x":{"field":"a","type":"quantitative","axis":null,"scale":{"domain":[0,108],"nice":false,"zero":false}},"x2":{"field":"b"},"y":{"field":"h","type":"quantitative","axis":null,"scale":{"domain":[0,313],"nice":false,"zero":false}}}},
{"mark":{"type":"rule","color":"#111","strokeWidth":1.6},"encoding":{"x":{"field":"a","type":"quantitative"},"y":{"field":"h","type":"quantitative"},"y2":{"field":"ha"}}},
{"mark":{"type":"rule","color":"#111","strokeWidth":1.6},"encoding":{"x":{"field":"b","type":"quantitative"},"y":{"field":"h","type":"quantitative"},"y2":{"field":"hb"}}}
]},
{"width":2264,"height":1155,"data":{"name":"cells"},
"transform":[{"lookup":"c","from":{"data":{"name":"lines"},"key":"c","fields":["line"]}},{"lookup":"d","from":{"data":{"name":"drugs"},"key":"d","fields":["drug"]}}],
"mark":{"type":"rect","stroke":"#999999","strokeWidth":1.3},
"encoding":{
"x":{"field":"line","type":"nominal","sort":{"field":"c","op":"min"},"scale":{"paddingInner":0,"paddingOuter":0},"axis":{"title":null,"orient":"bottom","ticks":false,"domain":false,"labelAngle":90,"labelFont":"Liberation Sans","labelFontSize":15,"labelColor":"#000","labelPadding":6,"labelLimit":0,"labelOverlap":false}},
"y":{"field":"drug","type":"nominal","sort":{"field":"d","op":"min"},"scale":{"paddingInner":0,"paddingOuter":0},"axis":{"title":null,"orient":"right","ticks":false,"domain":false,"labelFont":"Liberation Sans","labelFontSize":22.5,"labelColor":"#000","labelPadding":6,"labelLimit":0,"labelOverlap":false}},
"color":{"field":"v","type":"quantitative","scale":{"domain":[0,10,20,30,40,50,60],"range":["#4575B4","#91BFDB","#E0F3F8","#FFFFBF","#FEE090","#FC8D59","#D73027"],"interpolate":"rgb"},"legend":{"title":null,"orient":"none","legendX":2516,"legendY":104,"direction":"vertical","gradientLength":285,"gradientThickness":19,"gradientStrokeWidth":0,"values":[7.4,52.4],"labelExpr":"datum.value>30?'IC50 = 1 nM':'IC50 = 10,000 nM'","labelFont":"Liberation Sans","labelFontSize":19,"labelColor":"#000","labelOffset":8,"labelOverlap":false,"labelLimit":0}}
}}
]}
]}
